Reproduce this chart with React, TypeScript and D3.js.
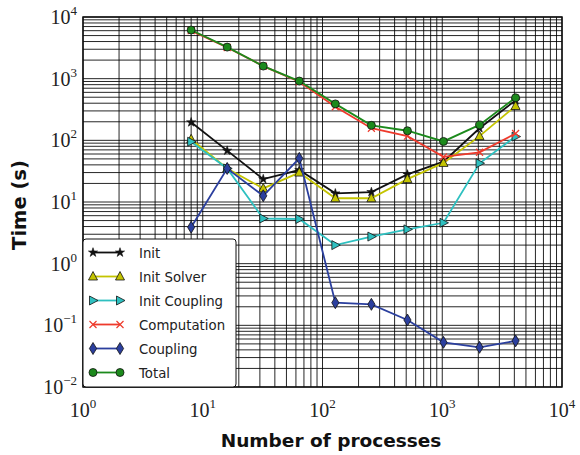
import React from "react";
import * as d3 from "d3";

const procs = [8, 16, 32, 64, 128, 256, 512, 1024, 2048, 4096];

const initVals = [196, 68, 23.5, 33, 13.8, 14.5, 28, 45, 157, 445];
const initSolverVals = [104, 35, 16.6, 30, 11.5, 11.5, 23.5, 43, 117, 360];
const initCouplingVals = [95, 35, 5.4, 5.3, 2.0, 2.75, 3.6, 4.6, 42.5, 115];
const computationVals = [6000, 3200, 1600, 890, 350, 157, 117, 54, 64, 129];
const couplingVals = [3.9, 35, 12.6, 51, 0.233, 0.219, 0.122, 0.053, 0.044, 0.056];
const totalVals = [6150, 3250, 1600, 915, 390, 175, 143, 96, 178, 490];

const xTickExp = [0, 1, 2, 3, 4];
const yTickExp = [-2, -1, 0, 1, 2, 3, 4];

const series = [
  { name: "Init", values: initVals, color: "#111111", marker: "star" },
  { name: "Init Solver", values: initSolverVals, color: "#c4c400", marker: "tri" },
  { name: "Init Coupling", values: initCouplingVals, color: "#2ec0c0", marker: "tri-right" },
  { name: "Computation", values: computationVals, color: "#ee3a2c", marker: "x" },
  { name: "Coupling", values: couplingVals, color: "#2b3f9e", marker: "diamond" },
  { name: "Total", values: totalVals, color: "#1c8a1c", marker: "circle" },
];

const margin = { left: 83, top: 17, right: 562, bottom: 387 };

const x = d3.scaleLog().domain([1, 1e4]).range([margin.left, margin.right]);
const y = d3.scaleLog().domain([1e-2, 1e4]).range([margin.bottom, margin.top]);

function Marker({ type, cx, cy, color }: { type: string; cx: number; cy: number; color: string }) {
  const edge = "#111";
  if (type === "circle") return <circle cx={cx} cy={cy} r={4} fill={color} stroke={edge} strokeWidth={0.8} />;
  if (type === "diamond")
    return (
      <path
        d={`M${cx},${cy - 6}L${cx + 3.6},${cy}L${cx},${cy + 6}L${cx - 3.6},${cy}Z`}
        fill={color}
        stroke={edge}
        strokeWidth={0.8}
      />
    );
  if (type === "tri")
    return (
      <path
        d={`M${cx},${cy - 5}L${cx + 4.5},${cy + 3.5}L${cx - 4.5},${cy + 3.5}Z`}
        fill={color}
        stroke={edge}
        strokeWidth={0.8}
      />
    );
  if (type === "tri-right")
    return (
      <path
        d={`M${cx + 5},${cy}L${cx - 3.5},${cy + 4.5}L${cx - 3.5},${cy - 4.5}Z`}
        fill={color}
        stroke={edge}
        strokeWidth={0.8}
      />
    );
  if (type === "x")
    return (
      <path
        d={`M${cx - 3.5},${cy - 3.5}L${cx + 3.5},${cy + 3.5}M${cx - 3.5},${cy + 3.5}L${cx + 3.5},${cy - 3.5}`}
        stroke={color}
        strokeWidth={1.2}
      />
    );
  // star
  const star = d3.symbol().type(d3.symbolStar).size(26)();
  return <path d={star || ""} transform={`translate(${cx},${cy})`} fill={color} stroke={edge} strokeWidth={0.6} />;
}

function minorTicks(lo: number, hi: number) {
  const out: number[] = [];
  for (let e = lo; e < hi; e++) {
    for (let m = 1; m <= 9; m++) out.push(m * Math.pow(10, e));
  }
  out.push(Math.pow(10, hi));
  return out;
}

export default function App() {
  const line = d3
    .line<[number, number]>()
    .x((d) => x(d[0]))
    .y((d) => y(d[1]));

  const xGrid = minorTicks(0, 4);
  const yGrid = minorTicks(-2, 4);
  const serif = "'Liberation Serif', 'DejaVu Serif', serif";
  const sans = "'DejaVu Sans', 'Liberation Sans', sans-serif";

  const legendX = 83;
  const legendY = 239;

  return (
    <svg width={580} height={455} style={{ position: "absolute", left: 0, top: 0 }}>
      <rect x={0} y={0} width={580} height={455} fill="#fff" />
      <g stroke="#000" strokeWidth={1} strokeOpacity={0.85}>
        {xGrid.map((v, i) => (
          <line key={"gx" + i} x1={x(v)} x2={x(v)} y1={margin.top} y2={margin.bottom} />
        ))}
        {yGrid.map((v, i) => (
          <line key={"gy" + i} x1={margin.left} x2={margin.right} y1={y(v)} y2={y(v)} />
        ))}
      </g>
      {series.map((s) => {
        const pts = procs.map((p, i) => [p, s.values[i]] as [number, number]);
        return (
          <g key={s.name}>
            <path d={line(pts) || ""} fill="none" stroke={s.color} strokeWidth={1.8} />
            {pts.map((d, i) => (
              <Marker key={i} type={s.marker} cx={x(d[0])} cy={y(d[1])} color={s.color} />
            ))}
          </g>
        );
      })}
      <rect
        x={margin.left}
        y={margin.top}
        width={margin.right - margin.left}
        height={margin.bottom - margin.top}
        fill="none"
        stroke="#111"
        strokeWidth={1.5}
      />
      {yTickExp.map((e) => (
        <text key={"yt" + e} x={77} y={y(Math.pow(10, e)) + 7} textAnchor="end" fontFamily={serif} fontSize={20} fill="#222">
          10
          <tspan dy={-9} fontSize={13}>
            {e < 0 ? "\u2212" + -e : e}
          </tspan>
        </text>
      ))}
      {xTickExp.map((e) => (
        <text key={"xt" + e} x={x(Math.pow(10, e))} y={417} textAnchor="middle" fontFamily={serif} fontSize={20} fill="#222">
          10
          <tspan dy={-9} fontSize={13}>
            {e}
          </tspan>
        </text>
      ))}
      <text x={331} y={447} textAnchor="middle" fontFamily={sans} fontWeight="bold" fontSize={18.5} fill="#111">
        Number of processes
      </text>
      <text
        transform="translate(26,205) rotate(-90)"
        textAnchor="middle"
        fontFamily={sans}
        fontWeight="bold"
        fontSize={19.5}
        fill="#111"
      >
        Time (s)
      </text>
      <rect x={legendX} y={legendY} width={153} height={148} rx={3} fill="#fff" stroke="#111" strokeWidth={1} />
      {series.map((s, i) => {
        const ly = legendY + 13.5 + i * 24;
        return (
          <g key={"lg" + s.name}>
            <line x1={93} x2={120} y1={ly} y2={ly} stroke={s.color} strokeWidth={1.8} />
            <Marker type={s.marker} cx={93} cy={ly} color={s.color} />
            <Marker type={s.marker} cx={120} cy={ly} color={s.color} />
            <text x={139} y={ly + 5} fontFamily={sans} fontSize={13.3} fill="#222">
              {s.name}
            </text>
          </g>
        );
      })}
    </svg>
  );
}
